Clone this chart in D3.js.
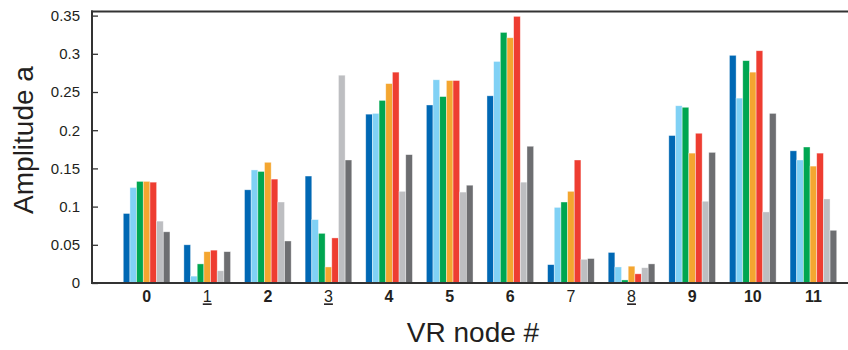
<!DOCTYPE html>
<meta charset="utf-8">
<title>VR node amplitudes</title>
<style>
    body { margin: 0; background: #fff; }
    svg text { font-family: "Liberation Sans", Arial, sans-serif; fill: #231f20; }
</style>
<body>
<script src="https://d3js.org/d3.v7.min.js"></script>
<script>
    var width = 848, height = 350;

    // data
    var nodes = ["0", "1", "2", "3", "4", "5", "6", "7", "8", "9", "10", "11"];
    var series = ["s1", "s2", "s3", "s4", "s5", "s6", "s7"];
    var colors = ["#0068b4", "#80d1f5", "#00a651", "#f4a630", "#ee3d31", "#bdbec1", "#6d6e71"];

    var s1 = [0.091, 0.050, 0.122, 0.140, 0.221, 0.233, 0.245, 0.024, 0.040, 0.193, 0.298, 0.173];
    var s2 = [0.125, 0.009, 0.148, 0.083, 0.222, 0.266, 0.290, 0.099, 0.021, 0.232, 0.242, 0.161];
    var s3 = [0.133, 0.025, 0.146, 0.065, 0.239, 0.244, 0.328, 0.106, 0.004, 0.230, 0.291, 0.178];
    var s4 = [0.133, 0.041, 0.158, 0.021, 0.261, 0.265, 0.321, 0.120, 0.022, 0.170, 0.276, 0.153];
    var s5 = [0.132, 0.043, 0.136, 0.059, 0.276, 0.265, 0.349, 0.161, 0.012, 0.196, 0.304, 0.170];
    var s6 = [0.081, 0.016, 0.106, 0.272, 0.120, 0.119, 0.132, 0.031, 0.020, 0.107, 0.093, 0.110];
    var s7 = [0.067, 0.041, 0.055, 0.161, 0.168, 0.128, 0.179, 0.032, 0.025, 0.171, 0.222, 0.069];
    var values = [s1, s2, s3, s4, s5, s6, s7];

    var yTicks = [0, 0.05, 0.1, 0.15, 0.2, 0.25, 0.3, 0.35];
    var boldNodes = ["0", "2", "4", "5", "6", "9", "10", "11"];
    var underlinedNodes = ["1", "3", "8"];

    var svg = d3.select("body").append("svg")
        .attr("width", width)
        .attr("height", height);

    var x = d3.scaleBand()
        .domain(nodes)
        .range([116.3, 843.7])
        .paddingInner(0.23)
        .paddingOuter(0.115);

    var xs = d3.scaleBand()
        .domain(series)
        .range([0, x.bandwidth()]);

    var y = d3.scaleLinear()
        .domain([0, 0.35])
        .range([283, 15.6]);

    // bars
    var groups = svg.append("g").selectAll("g")
        .data(nodes)
        .enter().append("g")
        .attr("transform", function(d) { return "translate(" + x(d) + ",0)"; });

    groups.selectAll("rect")
        .data(function(d, i) {
            return series.map(function(s, j) { return {s: s, j: j, v: values[j][i]}; });
        })
        .enter().append("rect")
        .attr("x", function(d) { return xs(d.s); })
        .attr("width", xs.bandwidth())
        .attr("y", function(d) { return y(d.v); })
        .attr("height", function(d) { return y(0) - y(d.v); })
        .style("fill", function(d) { return colors[d.j]; })
        .style("stroke", "rgba(255,255,255,0.55)")
        .style("stroke-width", 0.7);

    // frame
    svg.append("line")
        .attr("x1", 91).attr("x2", width)
        .attr("y1", 11.5).attr("y2", 11.5)
        .style("stroke", "#333").style("stroke-width", 2);

    svg.append("line")
        .attr("x1", 91).attr("x2", width)
        .attr("y1", y(0)).attr("y2", y(0))
        .style("stroke", "#333").style("stroke-width", 2);

    // y axis
    var yAxis = d3.axisLeft(y)
        .tickValues(yTicks)
        .tickFormat(function(d) { return d; })
        .tickSizeInner(-6)
        .tickSizeOuter(0)
        .tickPadding(12);

    var ya = svg.append("g")
        .attr("transform", "translate(92,0)")
        .call(yAxis);
    ya.select(".domain")
        .attr("d", "M0,10.5V284")
        .style("stroke", "#333").style("stroke-width", 2);
    ya.selectAll(".tick line").style("stroke", "#333").style("stroke-width", 1.3);
    ya.selectAll(".tick text")
        .style("font-size", "15px")
        .style("fill", "#231f20");

    // x axis labels
    var xAxis = d3.axisBottom(x).tickSize(0).tickPadding(8);
    var xa = svg.append("g")
        .attr("transform", "translate(0," + y(0) + ")")
        .call(xAxis);
    xa.select(".domain").remove();
    xa.selectAll(".tick text")
        .style("font-size", "16px")
        .style("fill", "#231f20")
        .style("font-weight", function(d) { return boldNodes.indexOf(d) >= 0 ? "bold" : "normal"; })
        .style("text-decoration", function(d) { return underlinedNodes.indexOf(d) >= 0 ? "underline" : "none"; });

    // axis titles
    svg.append("text")
        .attr("x", 473)
        .attr("y", 342)
        .style("text-anchor", "middle")
        .style("font-size", "28px")
        .text("VR node #");

    svg.append("text")
        .attr("transform", "translate(33,140) rotate(-90)")
        .style("text-anchor", "middle")
        .style("font-size", "28px")
        .text("Amplitude a");
</script>
</body>
